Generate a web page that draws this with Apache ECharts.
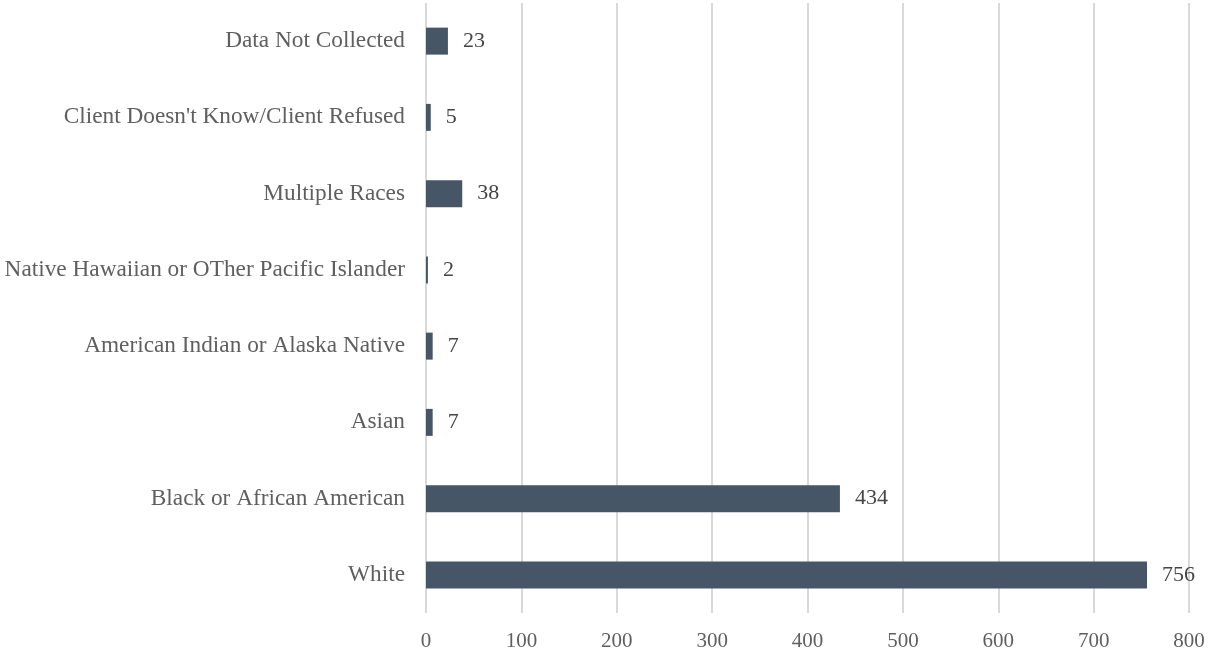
<!DOCTYPE html>
<html>
<head>
<meta charset="utf-8">
<script src="https://cdn.jsdelivr.net/npm/echarts@6/dist/echarts.min.js"></script>
<style>
  html, body { margin: 0; padding: 0; background: #fff; }
  #chart { width: 1225px; height: 656px; }
</style>
</head>
<body>
<div id="chart"></div>
<script>
// Race categories, listed bottom to top
const categories = [
  'White',
  'Black or African American',
  'Asian',
  'American Indian or Alaska Native',
  'Native Hawaiian or OTher Pacific Islander',
  'Multiple Races',
  "Client Doesn't Know/Client Refused",
  'Data Not Collected'
];
const counts = [756, 434, 7, 7, 2, 38, 5, 23];
const axisMax = 800;
const axisStep = 100;

const fontFamily = '"Liberation Serif", "DejaVu Serif", serif';

const chart = echarts.init(document.getElementById('chart'));
chart.setOption({
  animation: false,
  textStyle: { fontFamily },
  grid: { left: 426, right: 36, top: 3, bottom: 43, containLabel: false },
  xAxis: {
    type: 'value',
    min: 0,
    max: axisMax,
    interval: axisStep,
    axisLine: { show: false },
    axisTick: { show: false },
    axisLabel: { color: '#5f5f5f', fontSize: 21, fontFamily, margin: 18 },
    splitLine: { show: true, lineStyle: { color: '#d9d9d9', width: 2 } }
  },
  yAxis: {
    type: 'category',
    data: categories,
    axisLine: { show: false },
    axisTick: { show: false },
    axisLabel: { color: '#5f5f5f', fontSize: 23.3, fontFamily, margin: 21 }
  },
  series: [{
    type: 'bar',
    data: counts,
    barWidth: 27,
    itemStyle: { color: '#475667' },
    label: {
      show: true,
      position: 'right',
      distance: 15,
      color: '#454545',
      fontSize: 22,
      fontFamily
    }
  }]
});
</script>
</body>
</html>
